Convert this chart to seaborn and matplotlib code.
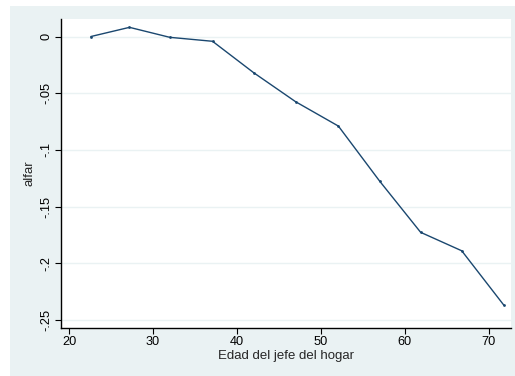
import matplotlib
matplotlib.use("Agg")
import matplotlib.pyplot as plt
import seaborn as sns
import pandas as pd
from matplotlib.patches import Rectangle

edad = [22.6, 27.2, 32.0, 37.1, 42.0, 47.0, 52.1, 57.0, 61.9, 66.8, 71.8]
alfar = [0.0, 0.0081, -0.0007, -0.0042, -0.0319, -0.0575, -0.079, -0.1274, -0.1727, -0.189, -0.2368]
yticks = [0, -0.05, -0.1, -0.15, -0.2, -0.25]
ytick_labels = ["0", "-.05", "-.1", "-.15", "-.2", "-.25"]
xticks = [20, 30, 40, 50, 60, 70]
xtick_labels = ["20", "30", "40", "50", "60", "70"]

sns.set_style("white")
plt.rcParams["font.family"] = ["Liberation Sans", "DejaVu Sans"]

W, H = 515, 376
fig = plt.figure(figsize=(W / 100, H / 100), dpi=100, facecolor="white")
bg = "#EAF2F3"
fig.patches.append(Rectangle((10 / W, 0), (W - 10) / W, (H - 6) / H,
                             transform=fig.transFigure, facecolor=bg,
                             edgecolor="none", zorder=-10))

left, right, top, bottom = 61, 511, 18.5, 328
ax = fig.add_axes([left / W, 1 - bottom / H, (right - left) / W, (bottom - top) / H])
ax.set_facecolor("white")

df = pd.DataFrame({"edad": edad, "alfar": alfar})
sns.lineplot(data=df, x="edad", y="alfar", ax=ax, color="#1a476f", linewidth=1.0,
             marker="o", markersize=2, markeredgewidth=0)

ax.set_xlim(19.04, 72.67)
ax.set_ylim(-0.2571, 0.0159)
ax.set_yticks(yticks)
ax.set_yticklabels(ytick_labels, rotation=90, va="center", fontsize=9.2)
ax.set_xticks(xticks)
ax.set_xticklabels(xtick_labels, fontsize=9.2)
ax.grid(axis="y", color=bg, linewidth=1.0)
ax.grid(axis="x", visible=False)
ax.set_axisbelow(True)

for s in ["top", "right"]:
    ax.spines[s].set_visible(False)
for s in ["left", "bottom"]:
    ax.spines[s].set_color("black")
    ax.spines[s].set_linewidth(1.0)

ax.tick_params(axis="both", direction="out", length=4, width=0.8, color="black",
               labelcolor="black", bottom=True, left=True, pad=2)
ax.set_xlabel("Edad del jefe del hogar", fontsize=9.5, labelpad=1.5)
ax.set_ylabel("alfar", fontsize=9.5, labelpad=4)

fig.savefig("out.png", dpi=100, facecolor="white")
